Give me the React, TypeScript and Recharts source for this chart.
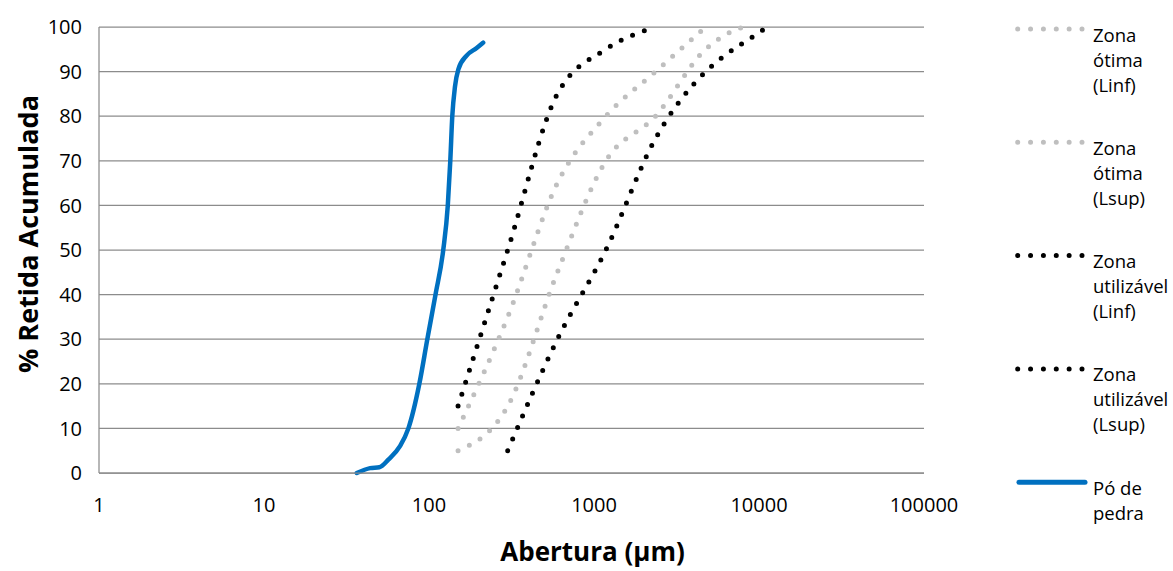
import { CartesianGrid, Line, LineChart, XAxis, YAxis } from "recharts"

// aberturas (µm) e % retida acumulada
const aberturaOtimaLinf = [150, 300, 600, 1180, 2360, 4750]
const retidaOtimaLinf = [10, 35, 65, 80, 90, 100]

const aberturaOtimaLsup = [150, 300, 600, 1180, 2360, 4750, 6300, 8000]
const retidaOtimaLsup = [5, 15, 45, 70, 80, 95, 98.3, 100]

const aberturaUtilLinf = [150, 300, 600, 1180, 2360]
const retidaUtilLinf = [15, 50, 85, 95, 100]

const aberturaUtilLsup = [300, 600, 1180, 2360, 4750, 6300, 9500, 11200]
const retidaUtilLsup = [5, 30, 50, 75, 90, 93.8, 98.2, 100]

const aberturaPo = [
  36.5, 44, 50, 56.7, 66.7, 75, 87.4, 97.7, 109.5, 122, 130, 134.6, 138.4, 143.8, 150.6, 169, 194.5, 213,
]
const retidaPo = [0, 1.1, 1.3, 3, 6, 10, 20, 30, 40, 50, 60, 70, 80, 86.7, 90.5, 93.6, 95.3, 96.5]

const xTicks = [1, 10, 100, 1000, 10000, 100000]
const yTicks = [0, 10, 20, 30, 40, 50, 60, 70, 80, 90, 100]

const toRows = (xs: number[], ys: number[]) => xs.map((x, i) => ({ x, y: ys[i] }))

const FONT = "'Open Sans', sans-serif"
const GRAY = "#BFBFBF"
const BLACK = "#000000"
const BLUE = "#0070C0"

const series = [
  { name: "Zona ótima (Linf)", data: toRows(aberturaOtimaLinf, retidaOtimaLinf), color: GRAY, dotted: true },
  { name: "Zona ótima (Lsup)", data: toRows(aberturaOtimaLsup, retidaOtimaLsup), color: GRAY, dotted: true },
  { name: "Zona utilizável (Linf)", data: toRows(aberturaUtilLinf, retidaUtilLinf), color: BLACK, dotted: true },
  { name: "Zona utilizável (Lsup)", data: toRows(aberturaUtilLsup, retidaUtilLsup), color: BLACK, dotted: true },
  { name: "Pó de pedra", data: toRows(aberturaPo, retidaPo), color: BLUE, dotted: false },
]

const W = 1173
const H = 571

function YTitle(props: any) {
  const vb = props.viewBox ?? { x: 0, y: 27, width: 99, height: 446 }
  const cx = vb.x + 27
  const cy = vb.y + vb.height / 2 - 16
  return (
    <text
      x={cx}
      y={cy}
      transform={`rotate(-90 ${cx} ${cy})`}
      textAnchor="middle"
      dominantBaseline="central"
      fontFamily={FONT}
      fontWeight={700}
      fontSize={27}
      fill="#000"
    >
      % Retida Acumulada
    </text>
  )
}

function XTitle(props: any) {
  const vb = props.viewBox ?? { x: 99, y: 473, width: 825, height: 98 }
  return (
    <text
      x={vb.x + vb.width / 2 + 81}
      y={vb.y + vb.height - 10}
      textAnchor="middle"
      fontFamily={FONT}
      fontWeight={700}
      fontSize={26}
      fill="#000"
    >
      Abertura (µm)
    </text>
  )
}

function Legenda() {
  const top = 29
  const step = 113.3
  return (
    <>
      <svg width={W} height={H} style={{ position: "absolute", left: 0, top: 0, pointerEvents: "none" }}>
        {series.map((s, i) => {
          const y = top + i * step
          return s.dotted ? (
            <line
              key={s.name}
              x1={1017.7}
              x2={1084}
              y1={y}
              y2={y}
              stroke={s.color}
              strokeWidth={5}
              strokeLinecap="round"
              strokeDasharray="0 12.86"
            />
          ) : (
            <line key={s.name} x1={1019} x2={1085} y1={y} y2={y} stroke={s.color} strokeWidth={5} strokeLinecap="round" />
          )
        })}
      </svg>
      {series.map((s, i) => (
        <div
          key={s.name}
          style={{
            position: "absolute",
            left: 1093,
            top: top + i * step - 7.5,
            width: 80,
            fontSize: 18.5,
            lineHeight: "25px",
            fontFamily: FONT,
            color: "#000",
          }}
        >
          {s.name}
        </div>
      ))}
    </>
  )
}

export default function App() {
  return (
    <div style={{ position: "absolute", left: 0, top: 0, width: W, height: H, background: "#fff" }}>
      <LineChart width={W} height={H} margin={{ top: 27, right: 249, bottom: 0, left: 0 }}>
        <CartesianGrid vertical={false} stroke="#8c8c8c" strokeWidth={1.25} />
        <XAxis
          type="number"
          dataKey="x"
          scale="log"
          domain={[1, 100000]}
          ticks={xTicks}
          interval={0}
          height={98}
          tickSize={0}
          tickMargin={25}
          tickLine={false}
          axisLine={{ stroke: "#8c8c8c", strokeWidth: 1.25 }}
          tick={{ fill: "#000", fontSize: 20, fontFamily: FONT }}
          label={{ content: XTitle }}
        />
        <YAxis
          type="number"
          domain={[0, 100]}
          ticks={yTicks}
          interval={0}
          width={99}
          tickSize={0}
          tickMargin={17}
          tickLine={false}
          axisLine={{ stroke: "#8c8c8c", strokeWidth: 1.25 }}
          tick={{ fill: "#000", fontSize: 20, fontFamily: FONT }}
          label={{ content: YTitle }}
        />
        {series.map((s) => (
          <Line
            key={s.name}
            name={s.name}
            data={s.data}
            dataKey="y"
            type="monotone"
            stroke={s.color}
            strokeWidth={s.dotted ? 5 : 4.5}
            strokeLinecap="round"
            strokeDasharray={s.dotted ? "0 12.5" : undefined}
            dot={false}
            activeDot={false}
            isAnimationActive={false}
          />
        ))}
      </LineChart>
      <Legenda />
    </div>
  )
}
